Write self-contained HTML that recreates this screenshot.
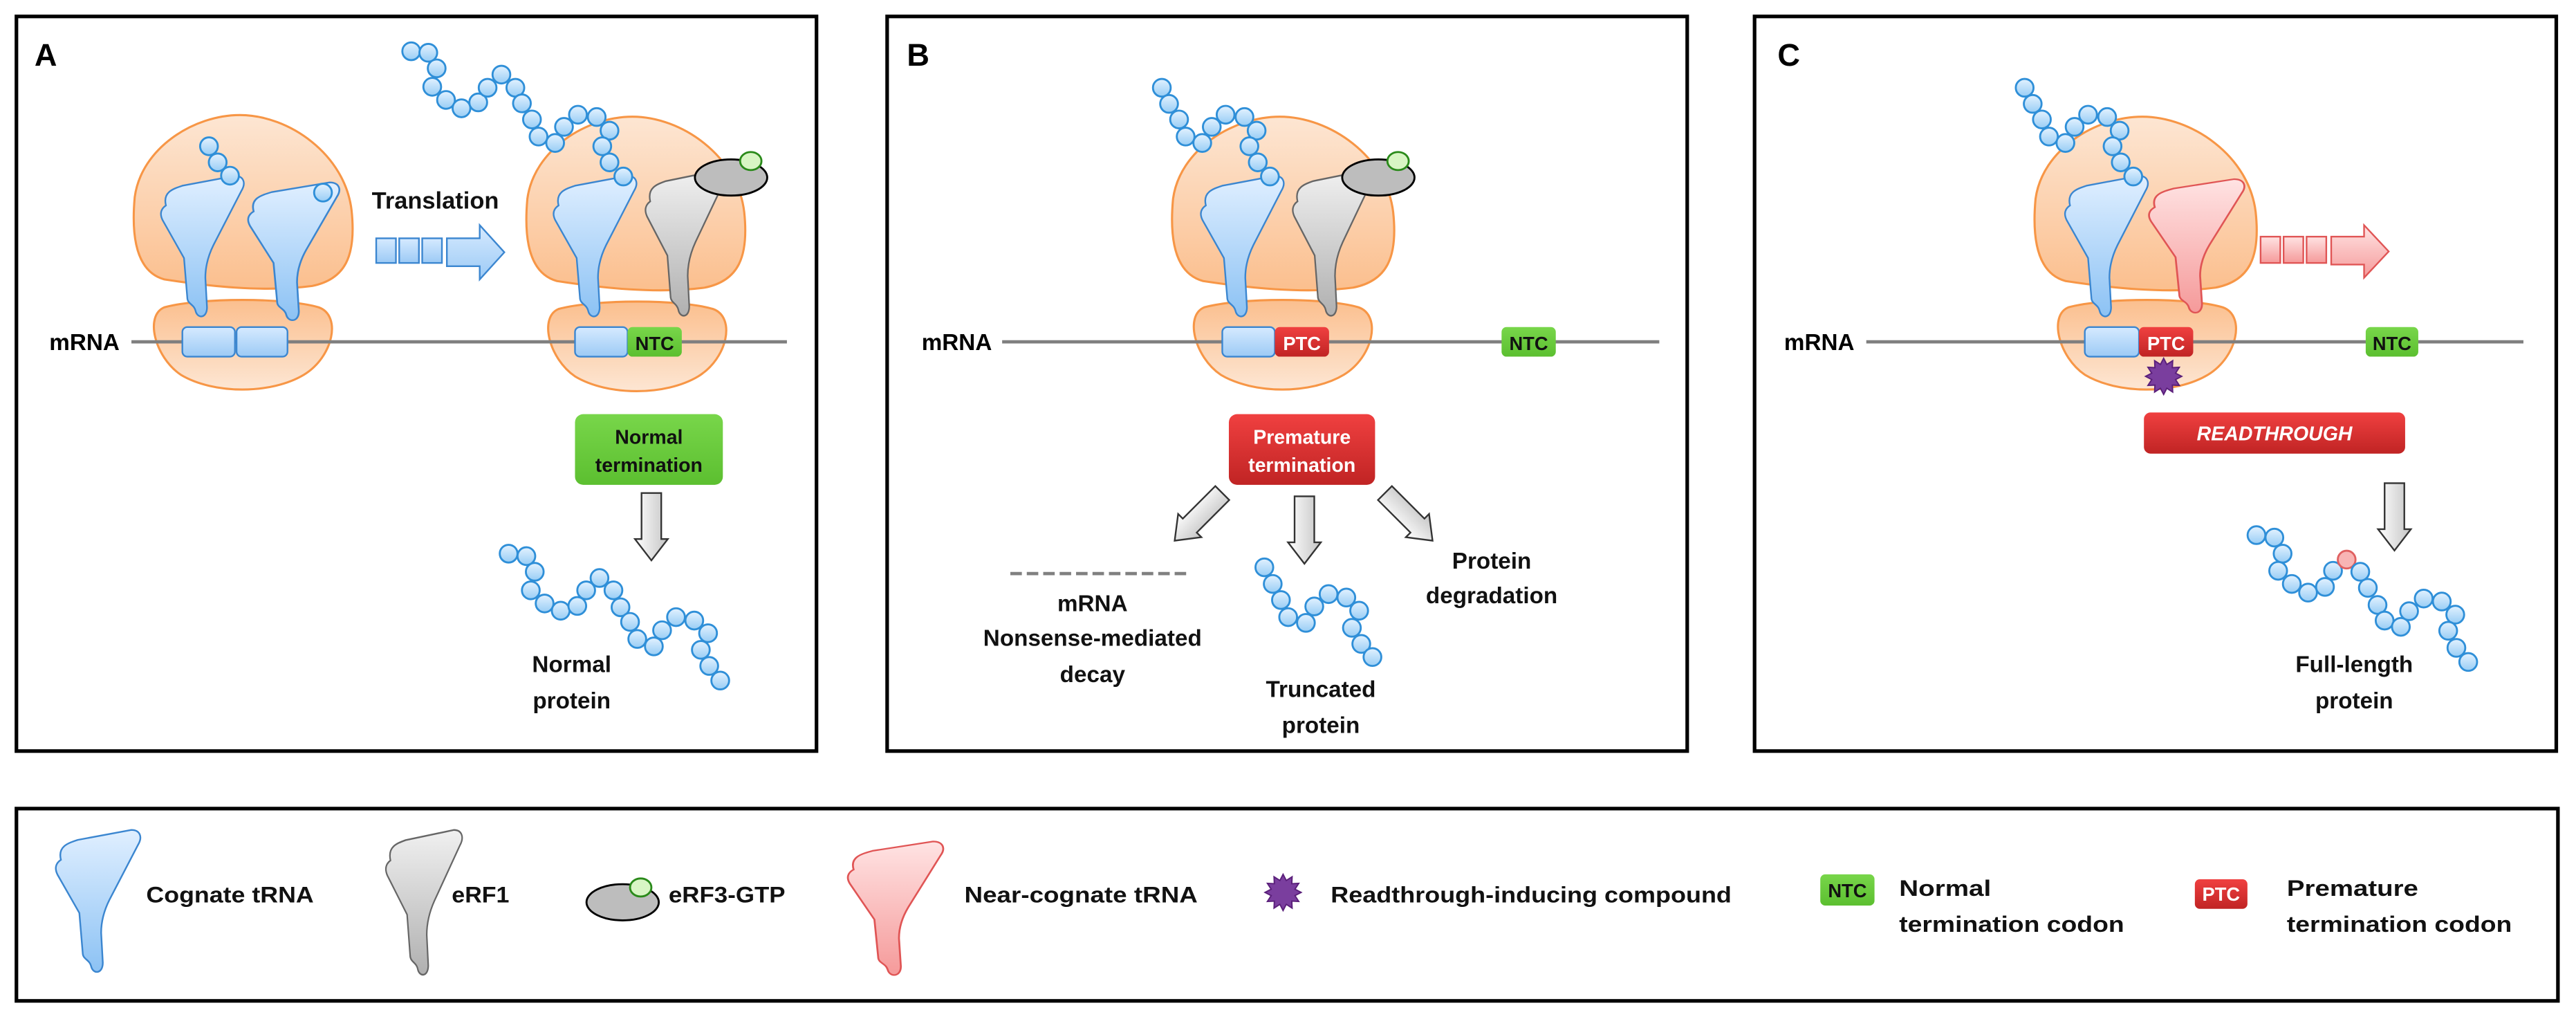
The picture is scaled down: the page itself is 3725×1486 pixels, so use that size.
<!DOCTYPE html>
<html><head><meta charset="utf-8"><style>
html,body{margin:0;padding:0;background:#fff;}
svg{display:block;}
text{font-family:"Liberation Sans",sans-serif;font-weight:bold;}
</style></head><body>
<svg width="3725" height="1486" viewBox="0 0 1568 625.5" preserveAspectRatio="none" xmlns="http://www.w3.org/2000/svg">
<defs>
<linearGradient id="gB" x1="0" y1="0" x2="0" y2="1"><stop offset="0" stop-color="#e0efff"/><stop offset="1" stop-color="#8cc2f4"/></linearGradient>
<linearGradient id="gG" x1="0" y1="0" x2="0" y2="1"><stop offset="0" stop-color="#f0f0f0"/><stop offset="1" stop-color="#b0b0b0"/></linearGradient>
<linearGradient id="gP" x1="0" y1="0" x2="0" y2="1"><stop offset="0" stop-color="#ffe3e3"/><stop offset="1" stop-color="#f59a9a"/></linearGradient>
<linearGradient id="gR" x1="0" y1="0" x2="0" y2="1"><stop offset="0" stop-color="#fde6d3"/><stop offset="1" stop-color="#fbbf8e"/></linearGradient>
<linearGradient id="gR2" x1="0" y1="0" x2="0" y2="1"><stop offset="0" stop-color="#fbbf8e"/><stop offset="1" stop-color="#fde6d3"/></linearGradient>
<linearGradient id="gBead" x1="0" y1="0" x2="0" y2="1"><stop offset="0" stop-color="#e3f2ff"/><stop offset="1" stop-color="#98cdf5"/></linearGradient>
<linearGradient id="gCod" x1="0" y1="0" x2="0" y2="1"><stop offset="0" stop-color="#d6eaff"/><stop offset="1" stop-color="#9ccaf5"/></linearGradient>
<linearGradient id="gGreen" x1="0" y1="0" x2="0" y2="1"><stop offset="0" stop-color="#78d64a"/><stop offset="1" stop-color="#5cbf30"/></linearGradient>
<linearGradient id="gRed" x1="0" y1="0" x2="0" y2="1"><stop offset="0" stop-color="#f04040"/><stop offset="1" stop-color="#c02424"/></linearGradient>
<linearGradient id="gArr" x1="0" y1="0" x2="1" y2="0"><stop offset="0" stop-color="#ffffff"/><stop offset="1" stop-color="#c4c4c4"/></linearGradient>
<path id="trna" d="M4,18 C2,10 8,8 14,6 L46,0 C51,0 53,4 50,9 L33,42 C30,48 28,55 28,62 L29,80 C29,87 23,87 22,82 C21,78 17,78 17,74 L15,50 L2,27 C0,23 1,20 4,18 Z"/>
<path id="large" d="M20,100 C2,95 0,72 2,50 C6,20 38,0 66,0 C96,0 130,24 134,58 C137,86 130,100 110,104 C80,108 46,104 20,100 Z"/>
<path id="small" d="M10,5 C32,-1 84,-1 104,5 C118,10 113,35 95,46 C75,58 40,58 20,46 C4,35 -2,10 10,5 Z"/>
<circle id="bd" r="5.4" fill="url(#gBead)" stroke="#2f8fd8" stroke-width="1.2"/>
<path id="darr" d="M-6,0 L6,0 L6,28 L10,28 L0,41 L-10,28 L-6,28 Z" fill="url(#gArr)" stroke="#333" stroke-width="1"/>
<polygon id="star" points="11,0 7.24,1.94 9.53,5.5 5.3,5.3 5.5,9.53 1.94,7.24 0,11 -1.94,7.24 -5.5,9.53 -5.3,5.3 -9.53,5.5 -7.24,1.94 -11,0 -7.24,-1.94 -9.53,-5.5 -5.3,-5.3 -5.5,-9.53 -1.94,-7.24 0,-11 1.94,-7.24 5.5,-9.53 5.3,-5.3 9.53,-5.5 7.24,-1.94" fill="#7a3e9e" stroke="#5a1f7a" stroke-width="0.8"/>
</defs>

<!-- Panel frames -->
<rect x="10" y="10" width="487" height="447" fill="none" stroke="#000" stroke-width="2.2"/>
<rect x="540" y="10" width="487" height="447" fill="none" stroke="#000" stroke-width="2.2"/>
<rect x="1068" y="10" width="488" height="447" fill="none" stroke="#000" stroke-width="2.2"/>
<rect x="10" y="492" width="1547" height="117" fill="none" stroke="#000" stroke-width="2.2"/>

<text x="21" y="40" font-size="19">A</text>
<text x="552" y="40" font-size="19">B</text>
<text x="1082" y="40" font-size="19">C</text>

<!-- ================= PANEL A ================= -->
<use href="#large" transform="translate(80,70)" fill="url(#gR)" stroke="#f79646" stroke-width="1.3"/>
<use href="#small" transform="translate(90,182)" fill="url(#gR2)" stroke="#f79646" stroke-width="1.3"/>
<use href="#large" transform="translate(319,71)" fill="url(#gR)" stroke="#f79646" stroke-width="1.3"/>
<use href="#small" transform="translate(330,183)" fill="url(#gR2)" stroke="#f79646" stroke-width="1.3"/>
<line x1="80" y1="208" x2="479" y2="208" stroke="#7f7f7f" stroke-width="2"/>
<text x="30" y="213" font-size="14">mRNA</text>
<rect x="111" y="199" width="32" height="18" rx="3" fill="url(#gCod)" stroke="#3b86d0" stroke-width="1"/>
<rect x="144" y="199" width="31" height="18" rx="3" fill="url(#gCod)" stroke="#3b86d0" stroke-width="1"/>
<rect x="350" y="199" width="32" height="18" rx="3" fill="url(#gCod)" stroke="#3b86d0" stroke-width="1"/>
<rect x="382" y="199" width="33" height="18" rx="3" fill="url(#gGreen)"/>
<text x="398.5" y="213" font-size="11.5" text-anchor="middle" fill="#111">NTC</text>
<use href="#trna" transform="translate(97,107)" fill="url(#gB)" stroke="#3b86d0" stroke-width="1"/>
<use href="#trna" transform="translate(150,111) scale(1.1,0.98)" fill="url(#gB)" stroke="#3b86d0" stroke-width="1"/>
<use href="#trna" transform="translate(336,107)" fill="url(#gB)" stroke="#3b86d0" stroke-width="1"/>
<use href="#trna" transform="translate(392,104) scale(0.95,1.03)" fill="url(#gG)" stroke="#666" stroke-width="1"/>
<ellipse cx="445" cy="108" rx="22" ry="11" fill="#bdbdbd" stroke="#000" stroke-width="1.2"/>
<ellipse cx="457" cy="98" rx="6.5" ry="5.5" fill="#d8f5c4" stroke="#2a8a1a" stroke-width="1.2"/>
<g>
<use href="#bd" x="127.2" y="89"/><use href="#bd" x="132.5" y="98.8"/><use href="#bd" x="140" y="106.9"/><use href="#bd" x="196.6" y="117.2"/>
<use href="#bd" x="250.3" y="31.2"/><use href="#bd" x="260.7" y="32.1"/><use href="#bd" x="265.8" y="41.6"/><use href="#bd" x="263.1" y="52.8"/><use href="#bd" x="271.5" y="60.8"/><use href="#bd" x="280.9" y="65.9"/><use href="#bd" x="291.1" y="62.3"/><use href="#bd" x="296.8" y="53.4"/><use href="#bd" x="305.2" y="45.4"/><use href="#bd" x="313.7" y="53.4"/><use href="#bd" x="317.7" y="62.9"/><use href="#bd" x="323.8" y="72.7"/><use href="#bd" x="327.8" y="83.1"/><use href="#bd" x="337.9" y="87"/><use href="#bd" x="343.3" y="77.2"/><use href="#bd" x="351.8" y="69.8"/><use href="#bd" x="363.2" y="71.2"/><use href="#bd" x="371" y="79.5"/><use href="#bd" x="366.6" y="89"/><use href="#bd" x="371" y="98.8"/><use href="#bd" x="379.4" y="107.4"/>
</g>
<text x="265" y="127" font-size="14.5" text-anchor="middle" fill="#111">Translation</text>
<g fill="url(#gCod)" stroke="#3b86d0" stroke-width="1">
<rect x="229" y="145" width="12" height="15"/><rect x="243" y="145" width="12" height="15"/><rect x="257" y="145" width="12" height="15"/>
<path d="M272,145 L292,145 L292,137 L307,153.5 L292,170 L292,162 L272,162 Z"/>
</g>
<rect x="350" y="252" width="90" height="43" rx="5" fill="url(#gGreen)"/>
<text x="395" y="270" font-size="12" text-anchor="middle" fill="#111">Normal</text>
<text x="395" y="287" font-size="12" text-anchor="middle" fill="#111">termination</text>
<use href="#darr" transform="translate(396.5,300)"/>
<g>
<use href="#bd" x="309.6" y="336.9"/><use href="#bd" x="320.4" y="338.4"/><use href="#bd" x="325.5" y="347.9"/><use href="#bd" x="323.1" y="359.2"/><use href="#bd" x="331.5" y="367.2"/><use href="#bd" x="341.3" y="371.6"/><use href="#bd" x="351.4" y="368.7"/><use href="#bd" x="356.8" y="359.2"/><use href="#bd" x="364.9" y="351.7"/><use href="#bd" x="373.4" y="359.2"/><use href="#bd" x="377.7" y="369.5"/><use href="#bd" x="383.5" y="378.4"/><use href="#bd" x="387.9" y="388.8"/><use href="#bd" x="398" y="393.3"/><use href="#bd" x="403" y="383.5"/><use href="#bd" x="411.5" y="375.5"/><use href="#bd" x="422.6" y="377.6"/><use href="#bd" x="431" y="385.3"/><use href="#bd" x="426.6" y="395.4"/><use href="#bd" x="431.7" y="405.2"/><use href="#bd" x="438.4" y="414.1"/>
</g>
<text x="348" y="409" font-size="14" text-anchor="middle" fill="#111">Normal</text>
<text x="348" y="431" font-size="14" text-anchor="middle" fill="#111">protein</text>

<!-- ================= PANEL B ================= -->
<use href="#large" transform="translate(712,71) scale(1.015,1)" fill="url(#gR)" stroke="#f79646" stroke-width="1.3"/>
<use href="#small" transform="translate(723,182)" fill="url(#gR2)" stroke="#f79646" stroke-width="1.3"/>
<line x1="610" y1="208" x2="1010" y2="208" stroke="#7f7f7f" stroke-width="2"/>
<text x="561" y="213" font-size="14">mRNA</text>
<rect x="744" y="199" width="32" height="18" rx="3" fill="url(#gCod)" stroke="#3b86d0" stroke-width="1"/>
<rect x="776" y="199" width="33" height="18" rx="3" fill="url(#gRed)"/>
<text x="792.5" y="213" font-size="11.5" text-anchor="middle" fill="#fff">PTC</text>
<rect x="914" y="199" width="33" height="18" rx="3" fill="url(#gGreen)"/>
<text x="930.5" y="213" font-size="11.5" text-anchor="middle" fill="#111">NTC</text>
<use href="#trna" transform="translate(730,107)" fill="url(#gB)" stroke="#3b86d0" stroke-width="1"/>
<use href="#trna" transform="translate(786,104) scale(0.95,1.03)" fill="url(#gG)" stroke="#666" stroke-width="1"/>
<ellipse cx="839" cy="108" rx="22" ry="11" fill="#bdbdbd" stroke="#000" stroke-width="1.2"/>
<ellipse cx="851" cy="98" rx="6.5" ry="5.5" fill="#d8f5c4" stroke="#2a8a1a" stroke-width="1.2"/>
<g>
<use href="#bd" x="707.2" y="53.4"/><use href="#bd" x="711.6" y="63.2"/><use href="#bd" x="717.7" y="72.7"/><use href="#bd" x="721.7" y="83.1"/><use href="#bd" x="731.8" y="87"/><use href="#bd" x="737.6" y="77.2"/><use href="#bd" x="746" y="69.8"/><use href="#bd" x="757.5" y="71.2"/><use href="#bd" x="764.9" y="79.5"/><use href="#bd" x="760.5" y="89"/><use href="#bd" x="765.6" y="98.8"/><use href="#bd" x="773" y="107.4"/>
</g>
<rect x="748" y="252" width="89" height="43" rx="5" fill="url(#gRed)"/>
<text x="792.5" y="270" font-size="12" text-anchor="middle" fill="#fff">Premature</text>
<text x="792.5" y="287" font-size="12" text-anchor="middle" fill="#fff">termination</text>
<use href="#darr" transform="translate(744,300) rotate(45)"/>
<use href="#darr" transform="translate(794,302)"/>
<use href="#darr" transform="translate(843,300) rotate(-45)"/>
<line x1="615" y1="349" x2="724" y2="349" stroke="#808080" stroke-width="2" stroke-dasharray="7,3"/>
<text x="665" y="372" font-size="14" text-anchor="middle" fill="#111">mRNA</text>
<text x="665" y="393" font-size="14" text-anchor="middle" fill="#111">Nonsense-mediated</text>
<text x="665" y="415" font-size="14" text-anchor="middle" fill="#111">decay</text>
<g>
<use href="#bd" x="769.6" y="345.2"/><use href="#bd" x="774.7" y="355.3"/><use href="#bd" x="779.7" y="365.1"/><use href="#bd" x="784.1" y="375.5"/><use href="#bd" x="794.9" y="379"/><use href="#bd" x="800" y="369"/><use href="#bd" x="808.7" y="361.5"/><use href="#bd" x="819.5" y="363.6"/><use href="#bd" x="827.3" y="371.6"/><use href="#bd" x="822.9" y="382"/><use href="#bd" x="828.6" y="391.8"/><use href="#bd" x="835.4" y="399.8"/>
</g>
<text x="804" y="424" font-size="14" text-anchor="middle" fill="#111">Truncated</text>
<text x="804" y="446" font-size="14" text-anchor="middle" fill="#111">protein</text>
<text x="908" y="346" font-size="14" text-anchor="middle" fill="#111">Protein</text>
<text x="908" y="367" font-size="14" text-anchor="middle" fill="#111">degradation</text>

<!-- ================= PANEL C ================= -->
<use href="#large" transform="translate(1237,71) scale(1.015,1)" fill="url(#gR)" stroke="#f79646" stroke-width="1.3"/>
<use href="#small" transform="translate(1249,182)" fill="url(#gR2)" stroke="#f79646" stroke-width="1.3"/>
<line x1="1136" y1="208" x2="1536" y2="208" stroke="#7f7f7f" stroke-width="2"/>
<text x="1086" y="213" font-size="14">mRNA</text>
<rect x="1269" y="199" width="33" height="18" rx="3" fill="url(#gCod)" stroke="#3b86d0" stroke-width="1"/>
<rect x="1302" y="199" width="33" height="18" rx="3" fill="url(#gRed)"/>
<text x="1318.5" y="213" font-size="11.5" text-anchor="middle" fill="#fff">PTC</text>
<rect x="1440" y="199" width="32" height="18" rx="3" fill="url(#gGreen)"/>
<text x="1456" y="213" font-size="11.5" text-anchor="middle" fill="#111">NTC</text>
<use href="#star" transform="translate(1317,229)"/>
<use href="#trna" transform="translate(1256,107)" fill="url(#gB)" stroke="#3b86d0" stroke-width="1"/>
<use href="#trna" transform="translate(1307,109) scale(1.15,0.95)" fill="url(#gP)" stroke="#e05555" stroke-width="1"/>
<g>
<use href="#bd" x="1232.4" y="53.4"/><use href="#bd" x="1237.3" y="63.2"/><use href="#bd" x="1242.9" y="72.7"/><use href="#bd" x="1247.2" y="83.1"/><use href="#bd" x="1257.2" y="87"/><use href="#bd" x="1262.8" y="77.2"/><use href="#bd" x="1271" y="69.8"/><use href="#bd" x="1282.6" y="71.2"/><use href="#bd" x="1290.2" y="79.5"/><use href="#bd" x="1285.9" y="89"/><use href="#bd" x="1290.9" y="98.8"/><use href="#bd" x="1298.5" y="107.4"/>
</g>
<g fill="url(#gP)" stroke="#e05555" stroke-width="1">
<rect x="1376" y="144" width="12" height="16"/><rect x="1390" y="144" width="12" height="16"/><rect x="1404" y="144" width="12" height="16"/>
<path d="M1419,144 L1439,144 L1439,137 L1454,153 L1439,169 L1439,161 L1419,161 Z"/>
</g>
<rect x="1305" y="251" width="159" height="25" rx="4" fill="url(#gRed)"/>
<text x="1384.5" y="268" font-size="12" font-style="italic" text-anchor="middle" fill="#fff">READTHROUGH</text>
<use href="#darr" transform="translate(1457.5,294)"/>
<g>
<use href="#bd" x="1373.5" y="325.6"/><use href="#bd" x="1384.4" y="327.1"/><use href="#bd" x="1389.4" y="336.9"/><use href="#bd" x="1386.7" y="347.3"/><use href="#bd" x="1395" y="355.3"/><use href="#bd" x="1404.9" y="360.6"/><use href="#bd" x="1415.2" y="357.1"/><use href="#bd" x="1420.1" y="347.3"/>
<circle cx="1428.4" cy="340.5" r="5.4" fill="#f8b4b4" stroke="#e06060" stroke-width="1.2"/>
<use href="#bd" x="1436.7" y="347.9"/><use href="#bd" x="1441.3" y="357.7"/><use href="#bd" x="1447.2" y="368.1"/><use href="#bd" x="1451.5" y="377.6"/><use href="#bd" x="1461.4" y="381.4"/><use href="#bd" x="1466.4" y="371.9"/><use href="#bd" x="1475.3" y="364.2"/><use href="#bd" x="1486.3" y="366"/><use href="#bd" x="1494.5" y="374"/><use href="#bd" x="1490.2" y="383.8"/><use href="#bd" x="1495.2" y="394.2"/><use href="#bd" x="1502.4" y="402.8"/>
</g>
<text x="1433" y="409" font-size="14" text-anchor="middle" fill="#111">Full-length</text>
<text x="1433" y="431" font-size="14" text-anchor="middle" fill="#111">protein</text>

<!-- ================= LEGEND ================= -->
<use href="#trna" transform="translate(33,505) scale(1.02,1.01)" fill="url(#gB)" stroke="#3b86d0" stroke-width="1"/>
<text x="89" y="549" font-size="13.5" textLength="102" lengthAdjust="spacingAndGlyphs" fill="#111">Cognate tRNA</text>
<use href="#trna" transform="translate(234,505) scale(0.92,1.03)" fill="url(#gG)" stroke="#666" stroke-width="1"/>
<text x="275" y="549" font-size="13.5" textLength="35" lengthAdjust="spacingAndGlyphs" fill="#111">eRF1</text>
<ellipse cx="379" cy="549" rx="22" ry="11" fill="#bdbdbd" stroke="#000" stroke-width="1.2"/>
<ellipse cx="390" cy="540" rx="6.5" ry="5.5" fill="#d8f5c4" stroke="#2a8a1a" stroke-width="1.2"/>
<text x="407" y="549" font-size="13.5" textLength="71" lengthAdjust="spacingAndGlyphs" fill="#111">eRF3-GTP</text>
<use href="#trna" transform="translate(515,512) scale(1.15,0.95)" fill="url(#gP)" stroke="#e05555" stroke-width="1"/>
<text x="587" y="549" font-size="13.5" textLength="142" lengthAdjust="spacingAndGlyphs" fill="#111">Near-cognate tRNA</text>
<use href="#star" transform="translate(781,543)"/>
<text x="810" y="549" font-size="13.5" textLength="244" lengthAdjust="spacingAndGlyphs" fill="#111">Readthrough-inducing compound</text>
<rect x="1108" y="532" width="33" height="19" rx="3" fill="url(#gGreen)"/>
<text x="1124.5" y="546" font-size="11.5" text-anchor="middle" fill="#111">NTC</text>
<text x="1156" y="545" font-size="13.5" textLength="56" lengthAdjust="spacingAndGlyphs" fill="#111">Normal</text>
<text x="1156" y="567" font-size="13.5" textLength="137" lengthAdjust="spacingAndGlyphs" fill="#111">termination codon</text>
<rect x="1336" y="535" width="32" height="18" rx="3" fill="url(#gRed)"/>
<text x="1352" y="548" font-size="11.5" text-anchor="middle" fill="#fff">PTC</text>
<text x="1392" y="545" font-size="13.5" textLength="80" lengthAdjust="spacingAndGlyphs" fill="#111">Premature</text>
<text x="1392" y="567" font-size="13.5" textLength="137" lengthAdjust="spacingAndGlyphs" fill="#111">termination codon</text>
</svg>
</body></html>
